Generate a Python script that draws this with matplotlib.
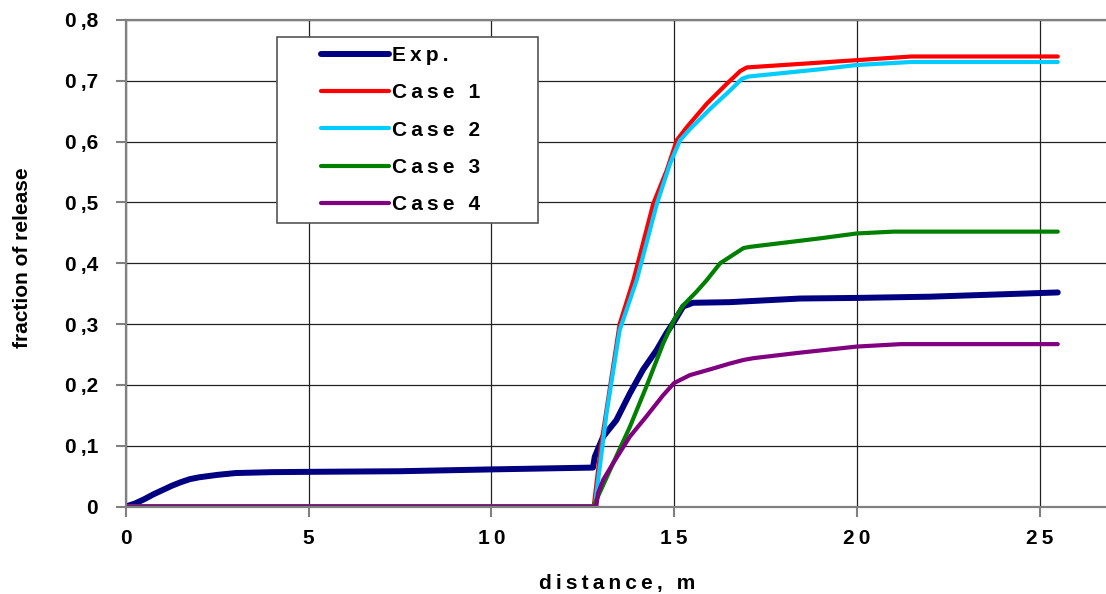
import matplotlib
matplotlib.use("Agg")
import matplotlib.pyplot as plt
from matplotlib.patches import Rectangle

plt.rcParams['font.family'] = ['Liberation Sans', 'DejaVu Sans']
plt.rcParams['font.weight'] = 'bold'

TS = '\u2009'  # thin space, used for the wide letter spacing of the original

# --- data ---
exp_x = [0.0, 0.25, 0.5, 0.75, 1.0, 1.25, 1.5, 1.75, 2.0, 2.5, 3.0, 4.0, 5.0, 7.5, 10.0,
         12.78, 12.83, 13.06, 13.42, 13.79, 14.15, 14.52, 14.79, 15.0, 15.25, 15.52, 16.52,
         18.45, 20.0, 22.0, 25.5]
exp_y = [0.0, 0.005, 0.012, 0.02, 0.027, 0.034, 0.04, 0.045, 0.048, 0.052, 0.055, 0.0565,
         0.057, 0.058, 0.061, 0.064, 0.082, 0.115, 0.142, 0.186, 0.225, 0.257, 0.285, 0.304,
         0.329, 0.335, 0.336, 0.342, 0.343, 0.345, 0.352]

case1_x = [0.0, 12.8, 13.0, 13.51, 13.89, 14.43, 14.8, 15.07, 15.35, 15.89, 16.44, 16.81,
           16.99, 19.0, 20.0, 21.5, 25.5]
case1_y = [0.0, 0.0, 0.1, 0.30, 0.373, 0.498, 0.553, 0.602, 0.624, 0.662, 0.695, 0.716,
           0.722, 0.730, 0.734, 0.740, 0.740]

case2_x = [0.0, 12.83, 13.15, 13.51, 13.98, 14.53, 14.89, 15.16, 15.44, 15.99, 16.53, 16.85,
           17.03, 19.0, 20.0, 21.5, 25.5]
case2_y = [0.0, 0.0, 0.153, 0.29, 0.373, 0.498, 0.564, 0.602, 0.621, 0.654, 0.684, 0.703,
           0.707, 0.719, 0.726, 0.731, 0.731]

case3_x = [0.0, 12.8, 12.83, 13.33, 13.79, 14.24, 14.7, 15.0, 15.25, 15.61, 15.89, 16.26,
           16.9, 17.08, 19.0, 20.0, 21.0, 25.5]
case3_y = [0.0, 0.0, 0.005, 0.071, 0.131, 0.197, 0.268, 0.307, 0.331, 0.353, 0.372, 0.40,
           0.425, 0.427, 0.441, 0.449, 0.452, 0.452]

case4_x = [0.0, 12.87, 12.92, 13.06, 13.33, 13.79, 14.24, 14.7, 15.0, 15.43, 16.07, 16.52,
           16.9, 17.18, 18.45, 20.0, 21.2, 25.5]
case4_y = [0.0, 0.0, 0.022, 0.044, 0.071, 0.115, 0.148, 0.183, 0.203, 0.216, 0.227, 0.235,
           0.241, 0.244, 0.253, 0.263, 0.267, 0.267]

series_names = ['Exp.', 'Case 1', 'Case 2', 'Case 3', 'Case 4']
x_ticks = [0, 5, 10, 15, 20, 25]
y_ticks = [0, 0.1, 0.2, 0.3, 0.4, 0.5, 0.6, 0.7, 0.8]
x_ticklabels = ['0', '5', '1' + TS + '0', '1' + TS + '5', '2' + TS + '0', '2' + TS + '5']
y_ticklabels = ['0'] + ['0' + TS + ',' + str(i) for i in range(1, 9)]


def spaced(s):
    return TS.join(s)


W, H = 1106, 594
fig = plt.figure(figsize=(W / 100, H / 100), dpi=100)
ax = fig.add_axes([126 / W, (H - 506.5) / H, (W - 126) / W, (506.5 - 20) / H])

style = dict(solid_capstyle='round', solid_joinstyle='round')
ax.plot(exp_x, exp_y, color='#000080', lw=4.3, **style)
ax.plot(case1_x, case1_y, color='#FF0000', lw=3.0, **style)
ax.plot(case2_x, case2_y, color='#00CCFF', lw=3.0, **style)
ax.plot(case3_x, case3_y, color='#008000', lw=3.0, **style)
ax.plot(case4_x, case4_y, color='#800080', lw=3.0, **style)

ax.set_xlim(0, (W - 126) / 36.54)
ax.set_ylim(0, 0.8)
ax.set_xticks(x_ticks)
ax.set_xticklabels(x_ticklabels)
ax.set_yticks(y_ticks)
ax.set_yticklabels(y_ticklabels)

ax.grid(True, color='#222222', lw=0.9)
ax.set_axisbelow(True)
for side in ['left', 'bottom', 'top']:
    ax.spines[side].set_color('#808080')
    ax.spines[side].set_linewidth(1.6)
ax.spines['right'].set_visible(False)

ax.tick_params(axis='both', direction='out', length=7, width=1.5, color='#808080', labelsize=15)
ax.tick_params(axis='y', pad=13)
ax.tick_params(axis='x', pad=9.5)

fig.text(23 / W, 1 - 258 / H, 'fraction of release', rotation=90, ha='center', va='center',
         fontsize=15, fontweight='bold')
fig.text(617 / W, 1 - 584 / H, spaced('distance,') + TS + ' ' + TS + 'm', ha='center',
         va='center', fontsize=15, fontweight='bold')

# legend box
fig.add_artist(Rectangle((277 / W, 1 - 223 / H), 261 / W, 186 / H, transform=fig.transFigure,
                         facecolor='white', edgecolor='#555555', lw=1.2, zorder=3))
labels = [spaced(n) for n in series_names]
leg = fig.legend(ax.get_lines(), labels, loc='upper left', bbox_to_anchor=(321 / W, 1 - 46 / H),
                 frameon=False, fontsize=15, handlelength=3.25, handletextpad=0.15,
                 labelspacing=0.877, borderpad=0, borderaxespad=0)
leg.set_zorder(5)

fig.savefig('out.png', dpi=100)
